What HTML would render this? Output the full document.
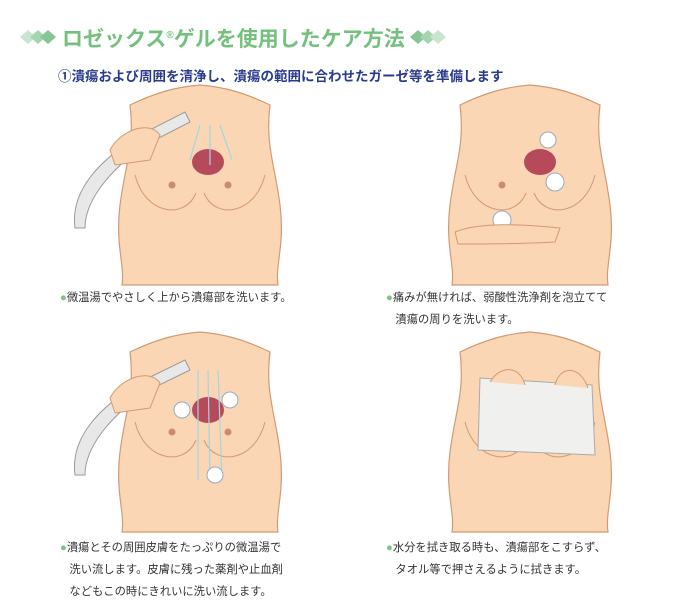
<!DOCTYPE html>
<html><head><meta charset="utf-8"><style>
body{margin:0;width:694px;height:613px;background:#fff;position:relative;overflow:hidden;font-family:"Liberation Sans","Noto Sans CJK JP",sans-serif}
.t{position:absolute;white-space:nowrap}
.cap{font-size:11.3px;color:#333;line-height:22px}
.dot{color:#7cc487}
svg{position:absolute;left:0;top:0}
</style></head><body>
<svg width="694" height="613">
<defs>
<g id="torso">
<path d="M10,0 C15,40 5,60 0,100 C-5,140 5,160 2,180 L158,180 C155,160 165,140 160,100 C155,60 145,40 150,0 C125,-12 105,-18 80,-20 C55,-18 35,-12 10,0Z" fill="#fad6b5" stroke="#d29a72" stroke-width="1.2"/>
<path d="M15,70 C25,110 65,115 76,88 M84,88 C95,115 135,110 145,70" fill="none" stroke="#d29a72" stroke-width="1"/>
<circle cx="52" cy="80" r="3.5" fill="#c98c6e"/><circle cx="108" cy="80" r="3.5" fill="#c98c6e"/>
</g>
</defs>
<g><path d="M20,37 l8,-7 8,7 -8,7z" fill="#c8e6cf"/><path d="M30,37 l8,-7 8,7 -8,7z" fill="#a6d4b1"/><path d="M40,37 l8,-7 8,7 -8,7z" fill="#86c595"/>
<path d="M410,37 l8,-7 8,7 -8,7z" fill="#86c595"/><path d="M420,37 l8,-7 8,7 -8,7z" fill="#a6d4b1"/><path d="M430,37 l8,-7 8,7 -8,7z" fill="#c8e6cf"/></g>
<use href="#torso" x="120" y="105"/>
<use href="#torso" x="450" y="105"/>
<use href="#torso" x="120" y="352"/>
<use href="#torso" x="450" y="352"/>
<ellipse cx="208" cy="162" rx="16" ry="13" fill="#b64a5a"/>
<ellipse cx="540" cy="162" rx="16" ry="13" fill="#b64a5a"/>
<ellipse cx="208" cy="410" rx="16" ry="13" fill="#b64a5a"/>
<path d="M75,228 C70,190 100,160 140,135 L185,112 L190,122 L145,145 C110,170 85,200 85,228Z" fill="#e8e8e8" stroke="#999"/>
<path d="M75,475 C70,437 100,407 140,382 L185,360 L190,370 L145,392 C110,417 85,447 85,475Z" fill="#e8e8e8" stroke="#999"/>
<path d="M110,150 C120,130 150,120 160,135 L150,160 L115,165Z" fill="#fad6b5" stroke="#d29a72"/>
<path d="M110,398 C120,378 150,368 160,383 L150,408 L115,413Z" fill="#fad6b5" stroke="#d29a72"/>
<g stroke="#9fd6e6" stroke-width="1.2"><path d="M200,125 L190,160 M210,125 L210,165 M220,125 L232,160 M198,370 L198,480 M208,370 L210,480 M218,370 L222,480"/></g>
<g fill="#fff" stroke="#9ab" stroke-width="1"><circle cx="548" cy="140" r="8"/><circle cx="555" cy="182" r="9"/><circle cx="502" cy="220" r="9"/><circle cx="182" cy="410" r="8"/><circle cx="230" cy="400" r="8"/><circle cx="215" cy="475" r="8"/></g>
<path d="M455,232 C480,222 520,224 560,228 L555,242 C520,244 480,244 458,244Z" fill="#fad6b5" stroke="#d29a72"/>
<path d="M480,378 L592,385 L595,455 L478,450Z" fill="#f0f0ee" stroke="#aaa"/>
<path d="M490,382 C500,365 520,365 525,385 M555,385 C560,365 580,365 588,388" fill="#fad6b5" stroke="#d29a72"/>
</svg>
<div class="t" style="left:62px;top:23px;font-size:21px;font-weight:bold;color:#74c07e">ロゼックス<sup style="font-size:10px">®</sup>ゲルを使用したケア方法</div>
<div class="t" style="left:58px;top:65px;font-size:13.5px;font-weight:bold;color:#2a3a8c">①潰瘍および周囲を清浄し、潰瘍の範囲に合わせたガーゼ等を準備します</div>
<div class="t cap" style="left:60px;top:287px"><span class="dot">●</span>微温湯でやさしく上から潰瘍部を洗います。</div>
<div class="t cap" style="left:386px;top:287px"><span class="dot">●</span>痛みが無ければ、弱酸性洗浄剤を泡立てて<br>&nbsp;&nbsp;&nbsp;潰瘍の周りを洗います。</div>
<div class="t cap" style="left:60px;top:537px"><span class="dot">●</span>潰瘍とその周囲皮膚をたっぷりの微温湯で<br>&nbsp;&nbsp;&nbsp;洗い流します。皮膚に残った薬剤や止血剤<br>&nbsp;&nbsp;&nbsp;などもこの時にきれいに洗い流します。</div>
<div class="t cap" style="left:386px;top:537px"><span class="dot">●</span>水分を拭き取る時も、潰瘍部をこすらず、<br>&nbsp;&nbsp;&nbsp;タオル等で押さえるように拭きます。</div>
</body></html>
